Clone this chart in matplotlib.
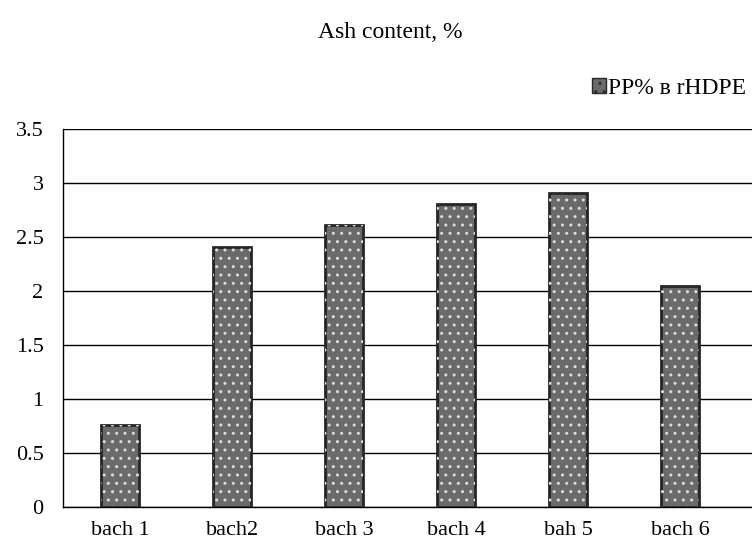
import numpy as np
import matplotlib.pyplot as plt
from matplotlib.patches import Patch

plt.rcParams['font.family'] = ['Liberation Serif', 'DejaVu Serif']

categories = ["bach 1", "bach2", "bach 3", "bach 4", "bah 5", "bach 6"]
pp_share = [0.76, 2.41, 2.61, 2.81, 2.91, 2.05]
yticks = [0, 0.5, 1, 1.5, 2, 2.5, 3, 3.5]

fig = plt.figure(figsize=(7.52, 5.44), dpi=100)
ax = fig.add_axes([63/752, 37/544, 689/752, 378/544])

x = np.arange(len(categories))
# dark grey bars with a white dotted pattern on top
ax.bar(x, pp_share, width=0.34, color="#6a6a6a", edgecolor="#262626",
       linewidth=2, zorder=3)
ax.bar(x, pp_share, width=0.34, facecolor="none", edgecolor="#dcdcdc",
       hatch="..", linewidth=0, zorder=4)

ax.set_xlim(-0.51, 5.64)
ax.set_ylim(0, 3.5)
ax.set_yticks(yticks)
ax.set_yticklabels([f"{v:g}" for v in yticks])
ax.set_xticks(x)
ax.set_xticklabels(categories)
ax.tick_params(length=0, labelsize=16)
ax.tick_params(axis="y", pad=14)
ax.tick_params(axis="x", pad=10)
ax.yaxis.grid(True, color="black", linewidth=1)
ax.set_axisbelow(True)
for side in ["top", "right"]:
    ax.spines[side].set_visible(False)
ax.spines["left"].set_linewidth(1)
ax.spines["bottom"].set_linewidth(1)

fig.text(390/752, 1 - 33/544, "Ash content, %", ha="center", va="center",
         fontsize=17)

handle = Patch(facecolor="#6a6a6a", edgecolor="#262626", hatch="..")
fig.legend([handle], ["PP% в rHDPE"], loc="center right",
           bbox_to_anchor=(1.005, 1 - 88/544), frameon=False, fontsize=17,
           handlelength=0.6, handleheight=0.6, handletextpad=0.1,
           borderaxespad=0)

fig.savefig("out.png", dpi=100)
